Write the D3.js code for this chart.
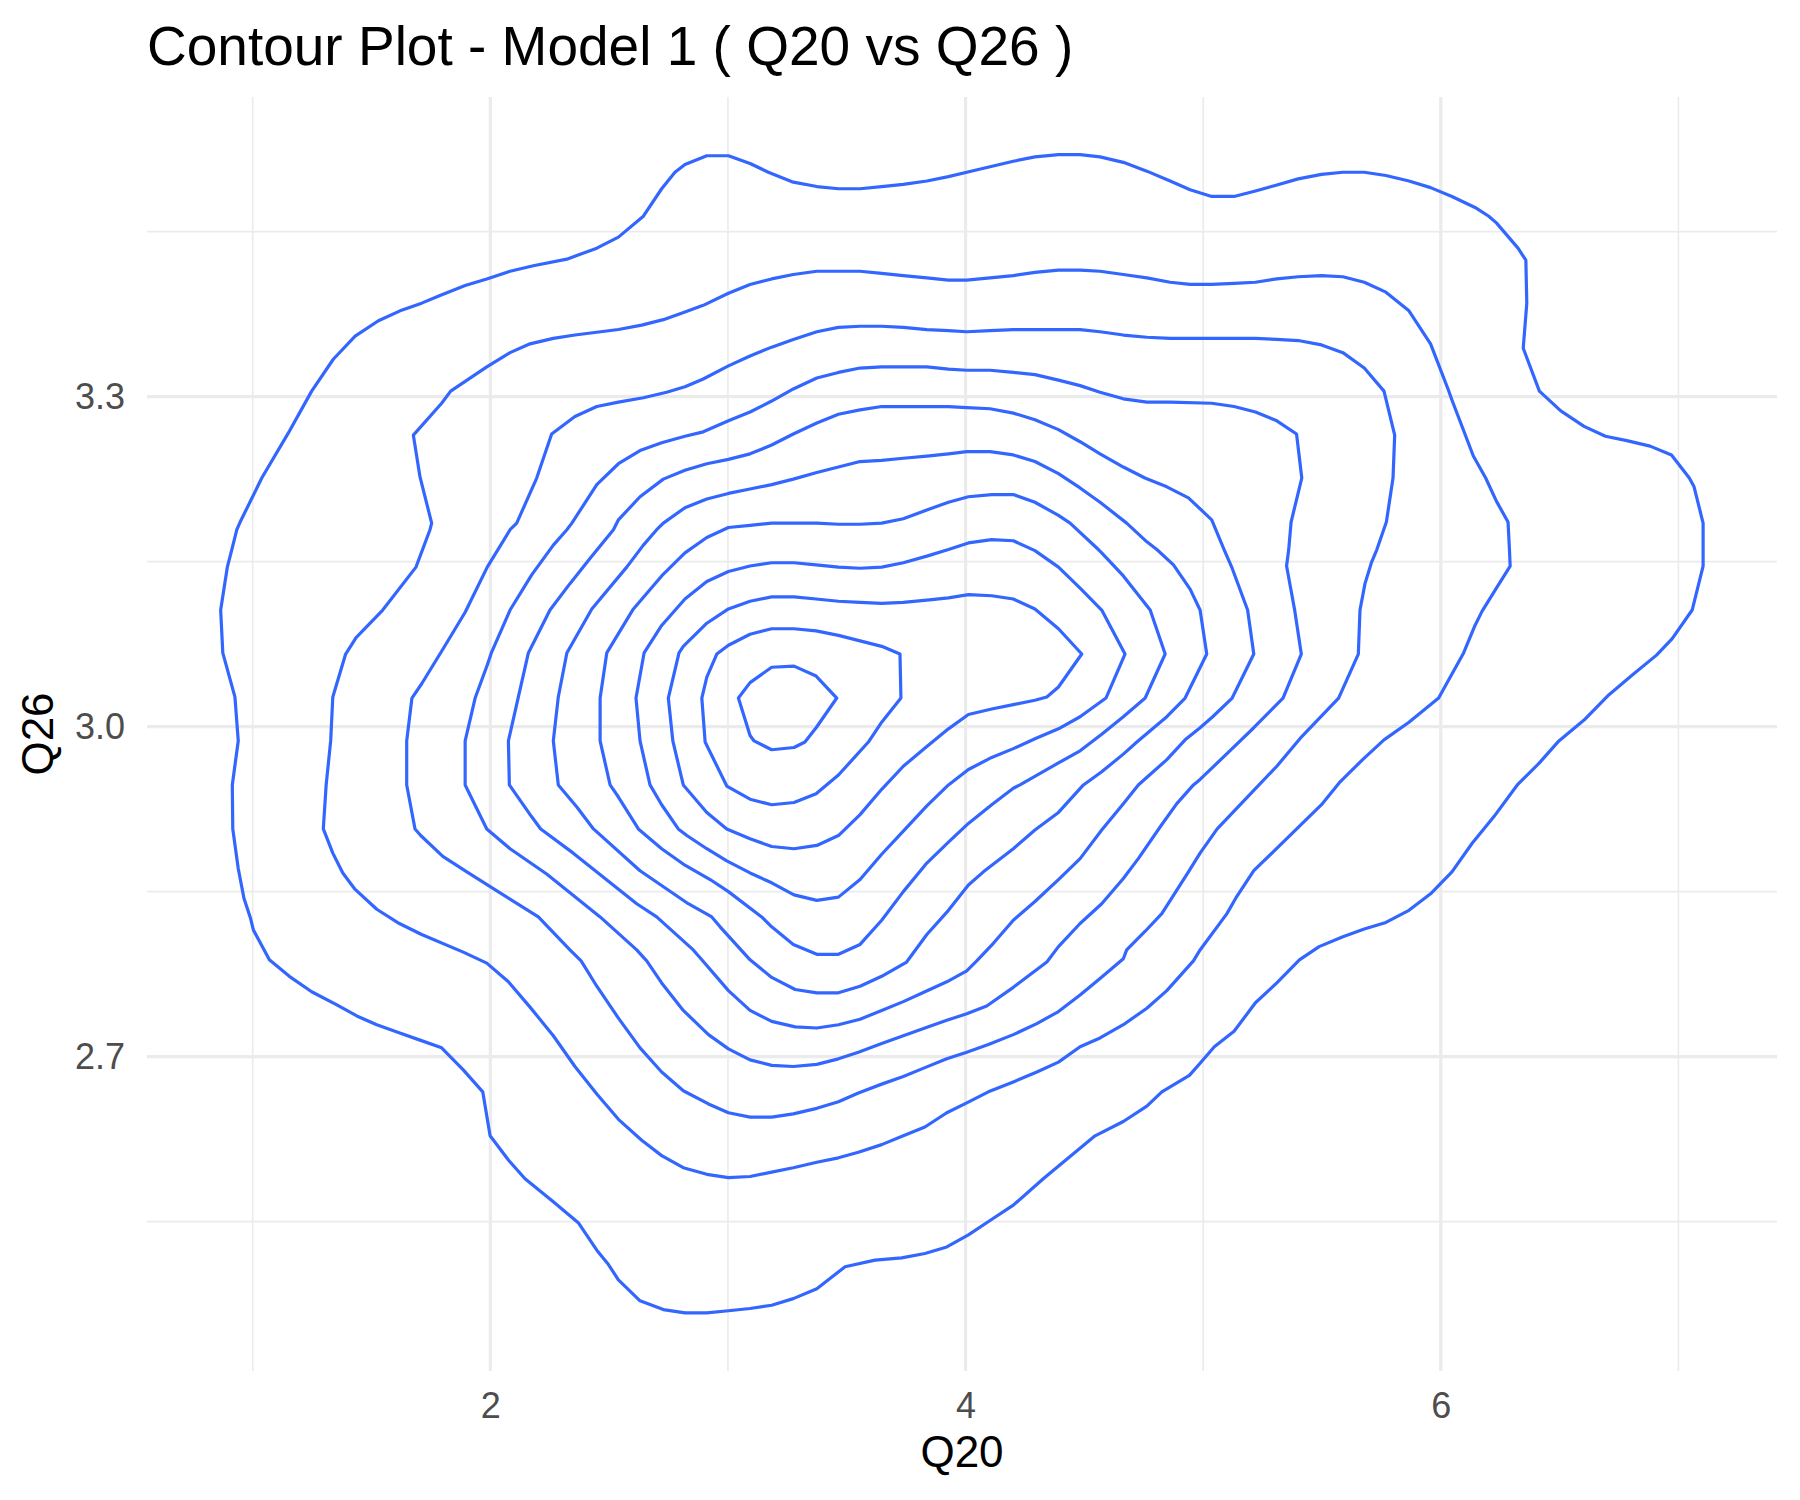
<!DOCTYPE html>
<html><head><meta charset="utf-8">
<script src="https://cdn.jsdelivr.net/npm/d3@7"></script>
<style>
html,body{margin:0;padding:0;background:#ffffff;}
svg{display:block;font-family:"Liberation Sans",Arial,Helvetica,sans-serif;}
</style>
</head><body>
<svg id="chart" width="1800" height="1500"></svg>
<script>
const chartTitle = "Contour Plot - Model 1 ( Q20 vs Q26 )";
const xLabel = "Q20";
const yLabel = "Q26";
const xMajorTicks = [2, 4, 6];
const xMinorTicks = [1, 3, 5, 7];
const yMajorTicks = [2.7, 3.0, 3.3];
const yMinorTicks = [2.55, 2.85, 3.15, 3.45];
const xLimits = [0.555, 7.415];
const yLimits = [2.4142, 3.5724];

// density contour levels, outermost (1) to innermost (11), as [Q20, Q26] vertices
const contour1 = [[0.933,3.179],[0.947,3.186],[1.038,3.226],[1.150,3.267],[1.248,3.305],[1.339,3.334],[1.431,3.355],[1.529,3.369],[1.620,3.378],[1.711,3.385],[1.788,3.392],[1.894,3.401],[1.985,3.407],[2.083,3.414],[2.181,3.419],[2.322,3.425],[2.448,3.435],[2.539,3.445],[2.644,3.464],[2.721,3.489],[2.777,3.504],[2.819,3.511],[2.911,3.519],[3.002,3.519],[3.093,3.512],[3.170,3.504],[3.275,3.495],[3.374,3.491],[3.465,3.489],[3.556,3.489],[3.647,3.491],[3.738,3.493],[3.837,3.496],[3.928,3.500],[4.005,3.504],[4.103,3.509],[4.201,3.514],[4.292,3.518],[4.391,3.520],[4.482,3.520],[4.566,3.518],[4.664,3.513],[4.763,3.505],[4.861,3.496],[4.945,3.488],[5.036,3.482],[5.130,3.482],[5.220,3.487],[5.303,3.492],[5.400,3.498],[5.498,3.502],[5.588,3.504],[5.678,3.504],[5.769,3.501],[5.866,3.496],[5.957,3.490],[6.047,3.482],[6.144,3.472],[6.202,3.464],[6.234,3.458],[6.325,3.435],[6.358,3.424],[6.362,3.385],[6.347,3.344],[6.415,3.305],[6.505,3.287],[6.603,3.273],[6.693,3.264],[6.783,3.260],[6.881,3.255],[6.971,3.247],[7.046,3.226],[7.066,3.218],[7.104,3.185],[7.104,3.146],[7.058,3.106],[6.974,3.080],[6.908,3.065],[6.806,3.047],[6.708,3.029],[6.603,3.006],[6.497,2.987],[6.415,2.967],[6.322,2.947],[6.223,2.918],[6.132,2.894],[6.047,2.868],[5.957,2.848],[5.866,2.833],[5.769,2.822],[5.678,2.816],[5.588,2.809],[5.488,2.800],[5.405,2.788],[5.310,2.767],[5.220,2.749],[5.130,2.723],[5.047,2.709],[4.987,2.694],[4.942,2.683],[4.826,2.668],[4.763,2.655],[4.664,2.641],[4.545,2.628],[4.327,2.589],[4.201,2.565],[4.103,2.551],[4.012,2.538],[3.921,2.527],[3.829,2.521],[3.731,2.517],[3.619,2.515],[3.493,2.509],[3.374,2.489],[3.275,2.480],[3.184,2.474],[3.093,2.471],[3.002,2.469],[2.911,2.467],[2.819,2.467],[2.728,2.470],[2.630,2.478],[2.539,2.497],[2.497,2.511],[2.448,2.524],[2.370,2.549],[2.265,2.568],[2.146,2.589],[2.076,2.606],[1.999,2.628],[1.968,2.668],[1.886,2.688],[1.795,2.708],[1.704,2.715],[1.613,2.722],[1.522,2.729],[1.438,2.737],[1.354,2.747],[1.248,2.759],[1.154,2.773],[1.070,2.788],[1.003,2.815],[0.989,2.827],[0.963,2.844],[0.939,2.871],[0.916,2.907],[0.914,2.947],[0.939,2.987],[0.925,3.027],[0.874,3.067],[0.865,3.106],[0.893,3.145],[0.912,3.161]];
const contour2 = [[1.886,2.795],[1.711,2.811],[1.617,2.821],[1.522,2.834],[1.431,2.852],[1.379,2.867],[1.337,2.885],[1.297,2.907],[1.309,2.947],[1.328,2.987],[1.337,3.027],[1.391,3.066],[1.435,3.081],[1.547,3.106],[1.687,3.145],[1.746,3.179],[1.753,3.185],[1.704,3.227],[1.676,3.265],[1.795,3.294],[1.833,3.305],[1.985,3.327],[2.083,3.340],[2.167,3.348],[2.265,3.353],[2.356,3.356],[2.539,3.361],[2.637,3.365],[2.728,3.370],[2.819,3.377],[2.896,3.383],[3.002,3.394],[3.093,3.402],[3.184,3.407],[3.275,3.411],[3.374,3.414],[3.465,3.414],[3.556,3.414],[3.647,3.412],[3.738,3.410],[3.837,3.408],[3.928,3.406],[4.005,3.406],[4.103,3.408],[4.201,3.410],[4.292,3.413],[4.391,3.415],[4.482,3.415],[4.566,3.414],[4.664,3.411],[4.763,3.408],[4.861,3.404],[4.945,3.402],[5.036,3.402],[5.130,3.403],[5.220,3.404],[5.310,3.407],[5.400,3.409],[5.498,3.410],[5.588,3.409],[5.678,3.404],[5.769,3.395],[5.866,3.378],[5.957,3.348],[6.032,3.306],[6.047,3.297],[6.137,3.246],[6.189,3.226],[6.234,3.205],[6.283,3.186],[6.289,3.161],[6.292,3.146],[6.234,3.126],[6.174,3.105],[6.144,3.092],[6.096,3.067],[5.991,3.026],[5.866,3.004],[5.761,2.988],[5.671,2.970],[5.573,2.949],[5.498,2.929],[5.213,2.869],[5.137,2.844],[5.100,2.830],[4.987,2.797],[4.959,2.787],[4.847,2.760],[4.763,2.744],[4.664,2.729],[4.566,2.717],[4.482,2.709],[4.391,2.695],[4.300,2.686],[4.201,2.677],[4.096,2.668],[4.005,2.658],[3.921,2.649],[3.829,2.636],[3.738,2.628],[3.647,2.620],[3.549,2.613],[3.465,2.608],[3.374,2.604],[3.275,2.599],[3.184,2.595],[3.093,2.591],[3.002,2.590],[2.911,2.593],[2.812,2.599],[2.721,2.610],[2.637,2.624],[2.539,2.643],[2.448,2.666],[2.356,2.691],[2.265,2.719],[2.167,2.745],[2.076,2.768],[1.985,2.785]];
const contour3 = [[2.335,2.797],[2.202,2.827],[1.901,2.868],[1.800,2.882],[1.707,2.901],[1.683,2.907],[1.648,2.947],[1.648,2.987],[1.670,3.026],[1.711,3.039],[1.802,3.071],[1.894,3.104],[1.987,3.145],[2.083,3.179],[2.111,3.185],[2.195,3.226],[2.258,3.266],[2.356,3.282],[2.448,3.291],[2.539,3.295],[2.644,3.299],[2.742,3.304],[2.819,3.309],[2.896,3.316],[3.002,3.328],[3.093,3.337],[3.184,3.345],[3.275,3.352],[3.374,3.359],[3.465,3.363],[3.556,3.364],[3.647,3.364],[3.738,3.363],[3.837,3.361],[3.928,3.360],[4.005,3.359],[4.103,3.360],[4.201,3.361],[4.292,3.361],[4.391,3.361],[4.482,3.361],[4.566,3.359],[4.664,3.356],[4.763,3.354],[4.861,3.353],[5.036,3.353],[5.220,3.353],[5.310,3.352],[5.400,3.351],[5.498,3.347],[5.588,3.340],[5.678,3.326],[5.761,3.305],[5.806,3.265],[5.799,3.226],[5.771,3.186],[5.731,3.161],[5.708,3.149],[5.681,3.130],[5.660,3.106],[5.653,3.066],[5.570,3.026],[5.415,2.991],[5.310,2.964],[5.213,2.942],[5.059,2.907],[4.987,2.885],[4.938,2.868],[4.826,2.830],[4.756,2.814],[4.678,2.797],[4.664,2.789],[4.566,2.771],[4.482,2.756],[4.391,2.741],[4.300,2.730],[4.201,2.720],[4.096,2.711],[4.005,2.704],[3.921,2.698],[3.829,2.690],[3.738,2.682],[3.647,2.675],[3.549,2.667],[3.465,2.659],[3.374,2.653],[3.275,2.648],[3.184,2.645],[3.093,2.645],[3.002,2.649],[2.918,2.657],[2.812,2.669],[2.721,2.686],[2.630,2.708],[2.539,2.735],[2.448,2.764],[2.382,2.787]];
const contour4 = [[2.616,2.797],[2.462,2.827],[2.237,2.866],[2.083,2.889],[1.985,2.907],[1.894,2.947],[1.894,2.987],[1.936,3.026],[1.987,3.056],[2.006,3.068],[2.083,3.106],[2.174,3.138],[2.265,3.165],[2.322,3.179],[2.343,3.185],[2.448,3.220],[2.539,3.239],[2.630,3.251],[2.721,3.258],[2.819,3.264],[2.896,3.268],[3.002,3.278],[3.093,3.286],[3.184,3.296],[3.275,3.307],[3.374,3.317],[3.465,3.322],[3.556,3.326],[3.647,3.327],[3.738,3.327],[3.837,3.327],[3.928,3.325],[4.005,3.324],[4.103,3.324],[4.201,3.322],[4.292,3.320],[4.391,3.315],[4.482,3.310],[4.566,3.304],[4.664,3.298],[4.763,3.295],[4.861,3.295],[5.036,3.294],[5.130,3.291],[5.220,3.286],[5.310,3.278],[5.393,3.266],[5.415,3.226],[5.370,3.186],[5.360,3.161],[5.351,3.146],[5.385,3.106],[5.413,3.066],[5.336,3.026],[5.213,2.999],[5.122,2.980],[4.987,2.952],[4.959,2.947],[4.889,2.930],[4.826,2.911],[4.727,2.880],[4.664,2.862],[4.573,2.839],[4.482,2.821],[4.391,2.800],[4.342,2.786],[4.201,2.763],[4.089,2.746],[4.005,2.739],[3.921,2.733],[3.829,2.726],[3.738,2.719],[3.647,2.712],[3.549,2.704],[3.465,2.698],[3.374,2.693],[3.275,2.691],[3.184,2.692],[3.093,2.697],[3.002,2.707],[2.918,2.720],[2.812,2.742],[2.721,2.767],[2.658,2.787]];
const contour5 = [[2.854,2.797],[2.700,2.827],[2.616,2.839],[2.349,2.885],[2.212,2.907],[2.174,2.918],[2.080,2.947],[2.076,2.987],[2.118,3.027],[2.160,3.067],[2.251,3.106],[2.335,3.130],[2.420,3.153],[2.518,3.179],[2.539,3.188],[2.630,3.209],[2.728,3.225],[2.819,3.233],[2.911,3.239],[3.002,3.243],[3.093,3.248],[3.184,3.256],[3.275,3.266],[3.374,3.276],[3.465,3.284],[3.556,3.288],[3.647,3.291],[3.738,3.291],[3.837,3.291],[3.928,3.291],[4.005,3.290],[4.103,3.289],[4.201,3.285],[4.292,3.279],[4.391,3.270],[4.482,3.259],[4.566,3.248],[4.664,3.236],[4.755,3.226],[4.847,3.218],[4.938,3.208],[5.036,3.188],[5.088,3.161],[5.122,3.144],[5.187,3.106],[5.213,3.066],[5.122,3.026],[5.040,3.009],[4.987,2.999],[4.924,2.988],[4.847,2.970],[4.727,2.947],[4.664,2.930],[4.573,2.906],[4.482,2.880],[4.391,2.861],[4.292,2.841],[4.201,2.824],[4.117,2.803],[4.047,2.787],[4.005,2.778],[3.921,2.768],[3.829,2.759],[3.738,2.750],[3.647,2.742],[3.556,2.734],[3.465,2.729],[3.374,2.726],[3.283,2.727],[3.184,2.732],[3.093,2.742],[3.002,2.760],[2.890,2.788]];
const contour6 = [[2.967,2.818],[2.932,2.827],[2.833,2.839],[2.630,2.869],[2.434,2.907],[2.364,2.927],[2.286,2.947],[2.265,2.987],[2.286,3.027],[2.322,3.067],[2.427,3.107],[2.574,3.145],[2.644,3.165],[2.700,3.179],[2.728,3.185],[2.819,3.199],[2.911,3.207],[3.002,3.212],[3.093,3.216],[3.184,3.220],[3.275,3.225],[3.374,3.231],[3.465,3.236],[3.556,3.241],[3.647,3.242],[3.738,3.244],[3.837,3.246],[3.928,3.248],[4.005,3.250],[4.103,3.250],[4.201,3.247],[4.292,3.241],[4.391,3.230],[4.482,3.217],[4.566,3.204],[4.678,3.185],[4.763,3.168],[4.805,3.161],[4.875,3.147],[4.945,3.125],[4.987,3.106],[5.015,3.066],[4.924,3.026],[4.847,3.009],[4.721,2.986],[4.664,2.975],[4.573,2.959],[4.496,2.947],[4.391,2.922],[4.292,2.906],[4.201,2.889],[4.075,2.868],[4.012,2.856],[3.928,2.833],[3.837,2.811],[3.752,2.786],[3.647,2.773],[3.556,2.764],[3.465,2.758],[3.374,2.758],[3.283,2.761],[3.184,2.772],[3.093,2.788]];
const contour7 = [[2.925,2.861],[2.819,2.874],[2.721,2.889],[2.623,2.907],[2.539,2.936],[2.504,2.947],[2.462,2.987],[2.462,3.026],[2.490,3.067],[2.602,3.107],[2.721,3.137],[2.819,3.158],[2.911,3.172],[3.002,3.181],[3.093,3.183],[3.184,3.185],[3.275,3.185],[3.374,3.185],[3.465,3.184],[3.556,3.184],[3.647,3.185],[3.738,3.189],[3.837,3.197],[3.928,3.204],[4.012,3.209],[4.110,3.211],[4.201,3.211],[4.292,3.204],[4.391,3.192],[4.440,3.185],[4.559,3.161],[4.573,3.158],[4.664,3.137],[4.777,3.106],[4.840,3.066],[4.756,3.026],[4.664,3.009],[4.573,2.993],[4.482,2.978],[4.391,2.967],[4.229,2.947],[4.201,2.944],[4.110,2.929],[4.012,2.912],[3.928,2.895],[3.837,2.876],[3.738,2.850],[3.647,2.824],[3.556,2.802],[3.465,2.793],[3.374,2.793],[3.275,2.802],[3.184,2.818],[3.142,2.827],[3.002,2.850]];
const contour8 = [[2.911,2.889],[2.827,2.901],[2.791,2.907],[2.721,2.929],[2.672,2.947],[2.630,2.987],[2.613,3.026],[2.647,3.067],[2.721,3.092],[2.782,3.107],[2.819,3.116],[2.911,3.132],[3.002,3.141],[3.093,3.146],[3.184,3.149],[3.278,3.149],[3.371,3.147],[3.465,3.145],[3.556,3.144],[3.647,3.145],[3.738,3.149],[3.837,3.155],[3.928,3.161],[4.012,3.167],[4.110,3.170],[4.201,3.169],[4.292,3.160],[4.391,3.145],[4.482,3.126],[4.573,3.106],[4.671,3.066],[4.591,3.026],[4.482,3.009],[4.391,2.998],[4.292,2.989],[4.201,2.980],[4.110,2.972],[4.012,2.961],[3.928,2.947],[3.837,2.928],[3.738,2.905],[3.647,2.884],[3.556,2.861],[3.465,2.845],[3.374,2.842],[3.278,2.847],[3.184,2.858],[3.093,2.867],[2.995,2.878]];
const contour9 = [[2.911,2.922],[2.812,2.947],[2.768,2.987],[2.749,3.026],[2.794,3.067],[2.812,3.073],[2.911,3.094],[3.002,3.107],[3.093,3.114],[3.184,3.118],[3.278,3.118],[3.371,3.116],[3.465,3.114],[3.556,3.113],[3.647,3.112],[3.738,3.113],[3.837,3.115],[3.928,3.117],[4.012,3.120],[4.110,3.119],[4.201,3.116],[4.292,3.107],[4.391,3.089],[4.489,3.066],[4.391,3.036],[4.342,3.027],[4.292,3.024],[4.201,3.020],[4.110,3.016],[4.012,3.011],[3.928,2.998],[3.837,2.982],[3.738,2.964],[3.647,2.943],[3.556,2.920],[3.465,2.901],[3.374,2.892],[3.278,2.889],[3.184,2.891],[3.093,2.898],[2.995,2.907]];
const contour10 = [[2.890,3.026],[2.911,3.045],[2.953,3.066],[3.002,3.074],[3.093,3.084],[3.184,3.089],[3.278,3.089],[3.371,3.087],[3.465,3.083],[3.556,3.078],[3.647,3.073],[3.724,3.066],[3.728,3.026],[3.647,3.004],[3.591,2.986],[3.465,2.956],[3.371,2.939],[3.278,2.931],[3.184,2.929],[3.093,2.934],[2.995,2.946],[2.904,2.986]];
const contour11 = [[3.044,3.026],[3.093,3.040],[3.184,3.054],[3.278,3.055],[3.371,3.046],[3.458,3.026],[3.371,2.999],[3.324,2.986],[3.278,2.981],[3.184,2.979],[3.110,2.987],[3.093,2.992]];

const contours = [contour1, contour2, contour3, contour4, contour5, contour6,
                  contour7, contour8, contour9, contour10, contour11];

const W = 1800, H = 1500;
const panel = {left: 147, right: 1777, top: 97, bottom: 1371};

const svg = d3.select("#chart");
svg.append("rect").attr("width", W).attr("height", H).attr("fill", "#ffffff");

const x = d3.scaleLinear().domain(xLimits).range([panel.left, panel.right]);
const y = d3.scaleLinear().domain(yLimits).range([panel.bottom, panel.top]);

const grid = svg.append("g");
// minor grid
grid.selectAll("line.xminor").data(xMinorTicks).join("line")
  .attr("x1", d => x(d)).attr("x2", d => x(d))
  .attr("y1", panel.top).attr("y2", panel.bottom)
  .attr("stroke", "#ebebeb").attr("stroke-width", 1.6);
grid.selectAll("line.yminor").data(yMinorTicks).join("line")
  .attr("y1", d => y(d)).attr("y2", d => y(d))
  .attr("x1", panel.left).attr("x2", panel.right)
  .attr("stroke", "#ebebeb").attr("stroke-width", 1.6);
// major grid
grid.selectAll("line.xmajor").data(xMajorTicks).join("line")
  .attr("x1", d => x(d)).attr("x2", d => x(d))
  .attr("y1", panel.top).attr("y2", panel.bottom)
  .attr("stroke", "#ebebeb").attr("stroke-width", 3.2);
grid.selectAll("line.ymajor").data(yMajorTicks).join("line")
  .attr("y1", d => y(d)).attr("y2", d => y(d))
  .attr("x1", panel.left).attr("x2", panel.right)
  .attr("stroke", "#ebebeb").attr("stroke-width", 3.2);

// contours
const line = d3.line().x(d => x(d[0])).y(d => y(d[1])).curve(d3.curveLinearClosed);
svg.append("g").selectAll("path").data(contours).join("path")
  .attr("d", line)
  .attr("fill", "none")
  .attr("stroke", "#3366ff")
  .attr("stroke-width", 3.2)
  .attr("stroke-linejoin", "round");

// axes (no lines / ticks, as in theme_minimal)
const xAxis = d3.axisBottom(x).tickValues(xMajorTicks).tickSize(0).tickPadding(21).tickFormat(d3.format("d"));
const gx = svg.append("g").attr("transform", `translate(0,${panel.bottom})`).call(xAxis);
gx.select(".domain").remove();
gx.selectAll("text").attr("font-size", 36).attr("fill", "#4d4d4d")
  .attr("font-family", '"Liberation Sans",Arial,sans-serif');

const yAxis = d3.axisLeft(y).tickValues(yMajorTicks).tickSize(0).tickPadding(22).tickFormat(d3.format(".1f"));
const gy = svg.append("g").attr("transform", `translate(${panel.left},0)`).call(yAxis);
gy.select(".domain").remove();
gy.selectAll("text").attr("font-size", 36).attr("fill", "#4d4d4d")
  .attr("font-family", '"Liberation Sans",Arial,sans-serif');

// titles
svg.append("text").attr("x", panel.left).attr("y", 65)
  .attr("font-size", 55).attr("fill", "#000").text(chartTitle);
svg.append("text").attr("x", (panel.left + panel.right) / 2).attr("y", 1467)
  .attr("text-anchor", "middle").attr("font-size", 44).attr("fill", "#000").text(xLabel);
svg.append("text")
  .attr("transform", `translate(53,${(panel.top + panel.bottom) / 2}) rotate(-90)`)
  .attr("text-anchor", "middle").attr("font-size", 44).attr("fill", "#000").text(yLabel);
</script>
</body></html>
